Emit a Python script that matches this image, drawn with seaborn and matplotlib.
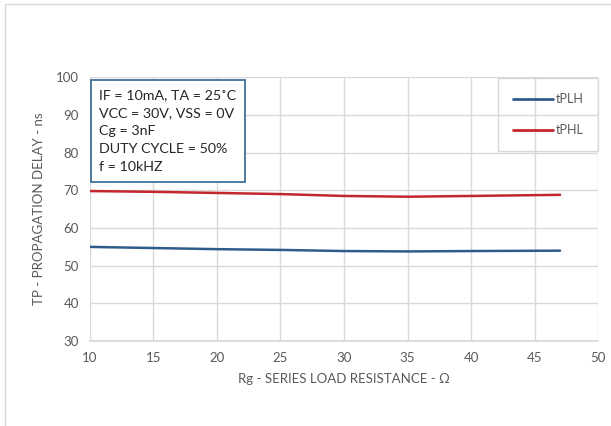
import pandas as pd
import seaborn as sns
import matplotlib.pyplot as plt
from matplotlib.patches import Rectangle

# Data
rg = [10, 15, 20, 25, 30, 35, 40, 47]
tplh = [55.0, 54.7, 54.4, 54.2, 53.9, 53.8, 53.9, 54.0]
tphl = [69.8, 69.6, 69.3, 69.0, 68.5, 68.3, 68.5, 68.8]

x_ticks = [10, 15, 20, 25, 30, 35, 40, 45, 50]
y_ticks = [30, 40, 50, 60, 70, 80, 90, 100]

df = pd.DataFrame({"Rg": rg * 2,
                   "Delay": tplh + tphl,
                   "Series": ["tPLH"] * len(rg) + ["tPHL"] * len(rg)})

sns.set_theme(style="whitegrid")
plt.rcParams["font.family"] = ["Lato", "DejaVu Sans"]

fig = plt.figure(figsize=(6.11, 4.26), dpi=100)
ax = fig.add_axes([0.147, 0.199, 0.832, 0.620])

# outer chart frame
fig.patches.append(Rectangle((0.008, -0.01), 1.5, 1.0, transform=fig.transFigure,
                             fill=False, edgecolor="#d9d9d9", linewidth=1))

sns.lineplot(data=df, x="Rg", y="Delay", hue="Series",
             palette={"tPLH": "#2f5b8a", "tPHL": "#c3262d"},
             linewidth=1.8, ax=ax, legend=False)

ax.set_xlim(10, 50)
ax.set_ylim(30, 100)
ax.set_xticks(x_ticks)
ax.set_yticks(y_ticks)
ax.grid(True, color="#d9d9d9", linewidth=1)
for s in ["top", "right"]:
    ax.spines[s].set_visible(False)
ax.spines["left"].set_visible(False)
ax.spines["bottom"].set_color("#d9d9d9")
ax.tick_params(axis="both", colors="#595959", labelsize=9.5, length=0)
ax.tick_params(axis="x", pad=8)
ax.tick_params(axis="y", pad=8)

ax.set_xlabel("Rg - SERIES LOAD RESISTANCE - Ω", color="#595959", fontsize=9.5, labelpad=6)
ax.set_ylabel("TP - PROPAGATION DELAY - ns", color="#595959", fontsize=9.5, labelpad=8)

# conditions box
ax.text(0.019, 0.955,
        "IF = 10mA, TA = 25˚C\nVCC = 30V, VSS = 0V\nCg = 3nF\nDUTY CYCLE = 50%\nf = 10kHZ",
        transform=ax.transAxes, va="top", ha="left", fontsize=10.3, color="#262626",
        linespacing=1.6,
        bbox=dict(boxstyle="square,pad=0.6", facecolor="white", edgecolor="#41719c", linewidth=1.3))

# legend
h1, = ax.plot([], [], color="#2f5b8a", linewidth=2, label="tPLH")
h2, = ax.plot([], [], color="#c3262d", linewidth=2, label="tPHL")
leg = ax.legend(handles=[h1, h2], loc="upper right", bbox_to_anchor=(1.0, 0.995),
                frameon=True, fancybox=False, facecolor="none", edgecolor="#d0d0d0",
                fontsize=9, handlelength=3.2, handletextpad=0.2, labelspacing=1.5,
                borderpad=1.2, borderaxespad=0.0)
leg.get_frame().set_linewidth(1)
for t in leg.get_texts():
    t.set_color("#595959")

fig.savefig("out.png", dpi=100)
